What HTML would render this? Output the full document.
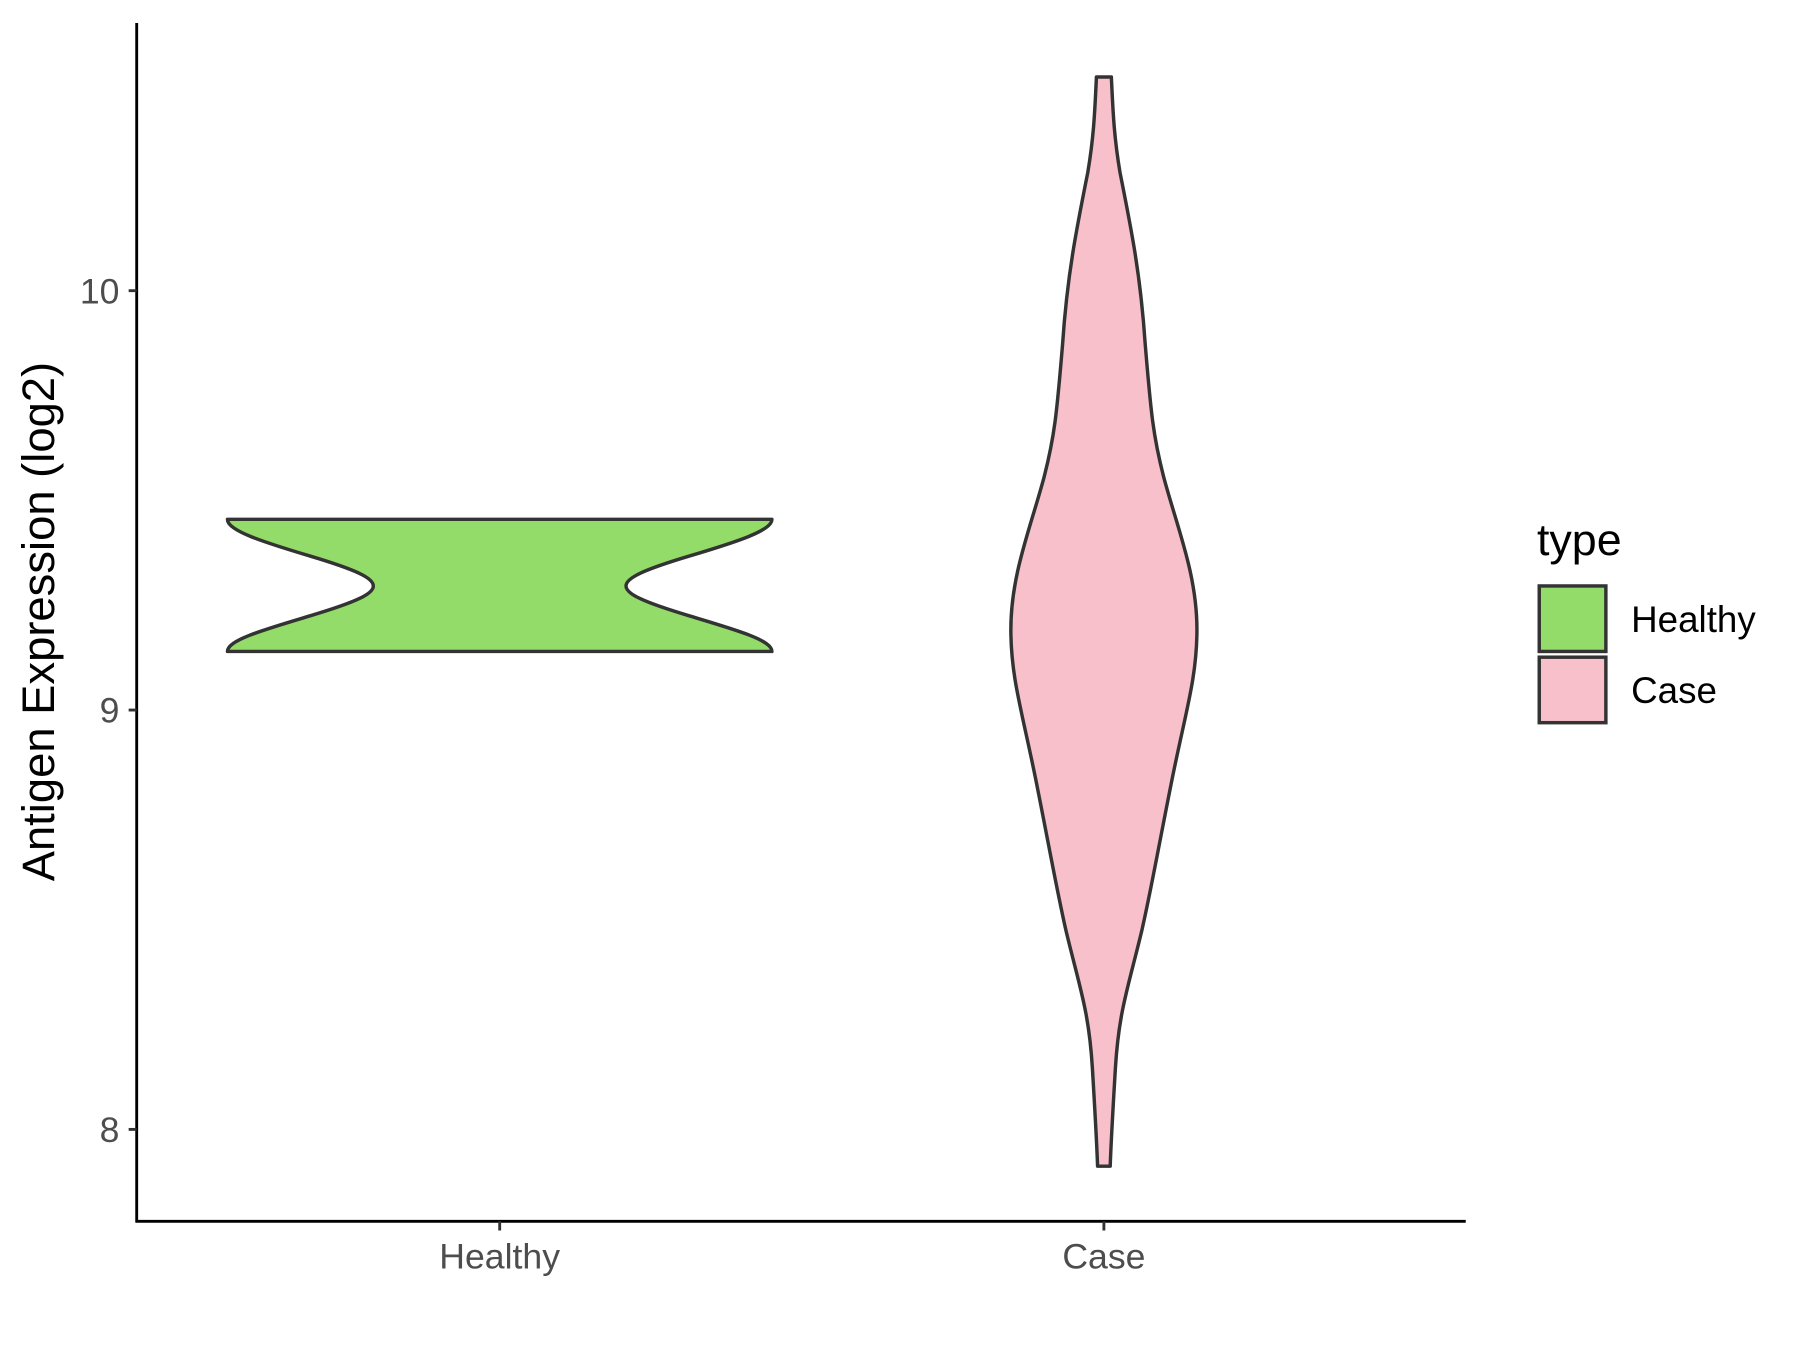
<!DOCTYPE html>
<html><head><meta charset="utf-8"><style>html,body{margin:0;padding:0;background:#fff}svg{display:block}</style></head>
<body>
<svg width="1800" height="1350" viewBox="0 0 1567 1175" preserveAspectRatio="none" xmlns="http://www.w3.org/2000/svg" font-family="Liberation Sans, Arial, sans-serif">
<rect width="1567" height="1175" fill="#fff"/>
<path d="M198,452 C198,462 230,472 270,484 C310,496 325,503 325,510 C325,517 310,524 270,536 C230,548 198,557 198,567 L672,567 C672,557 640,548 600,536 C560,524 545,517 545,510 C545,503 560,496 600,484 C640,472 672,462 672,452 Z" fill="#93dc6a" stroke="#333" stroke-width="3" stroke-linejoin="round"/>
<path d="M954.5,67 L967.5,67 C969,100 970,120 975,150 C985,200 993,240 997,300 C1002,360 1004,380 1013,415 C1025,460 1042,500 1042,548 C1042,590 1032,620 1020,680 C1008,740 1003,770 994,810 C982,860 974,880 971,930 C968,980 967,1000 966.5,1015 L955.5,1015 C955,1000 954,980 951,930 C948,880 940,860 928,810 C919,770 914,740 902,680 C890,620 880,590 880,548 C880,500 897,460 909,415 C918,380 920,360 925,300 C929,240 937,200 947,150 C952,120 953,100 954.5,67 Z" fill="#f7c0cb" stroke="#333" stroke-width="3" stroke-linejoin="round"/>
<line x1="119" y1="20" x2="119" y2="1064" stroke="#000" stroke-width="2.5"/>
<line x1="118" y1="1063" x2="1276" y2="1063" stroke="#000" stroke-width="2.5"/>
<g stroke="#333" stroke-width="2.5">
<line x1="112" y1="983" x2="119" y2="983"/><line x1="112" y1="618" x2="119" y2="618"/><line x1="112" y1="253" x2="119" y2="253"/>
<line x1="435" y1="1063" x2="435" y2="1071"/><line x1="961" y1="1063" x2="961" y2="1071"/>
</g>
<g fill="#4d4d4d" font-size="31" text-anchor="end">
<text x="104" y="994">8</text><text x="104" y="629">9</text><text x="104" y="264">10</text>
</g>
<g fill="#4d4d4d" font-size="31" text-anchor="middle">
<text x="435" y="1104">Healthy</text><text x="961" y="1104">Case</text>
</g>
<text transform="translate(47,541) rotate(-90)" text-anchor="middle" font-size="39.5" fill="#000">Antigen Expression (log2)</text>
<text x="1338" y="483" font-size="39" fill="#000">type</text>
<rect x="1340" y="510" width="58" height="57" fill="#93dc6a" stroke="#333" stroke-width="3"/>
<rect x="1340" y="572" width="58" height="57" fill="#f7c0cb" stroke="#333" stroke-width="3"/>
<text x="1420" y="550" font-size="32" fill="#000">Healthy</text>
<text x="1420" y="612" font-size="32" fill="#000">Case</text>
</svg>
</body></html>
